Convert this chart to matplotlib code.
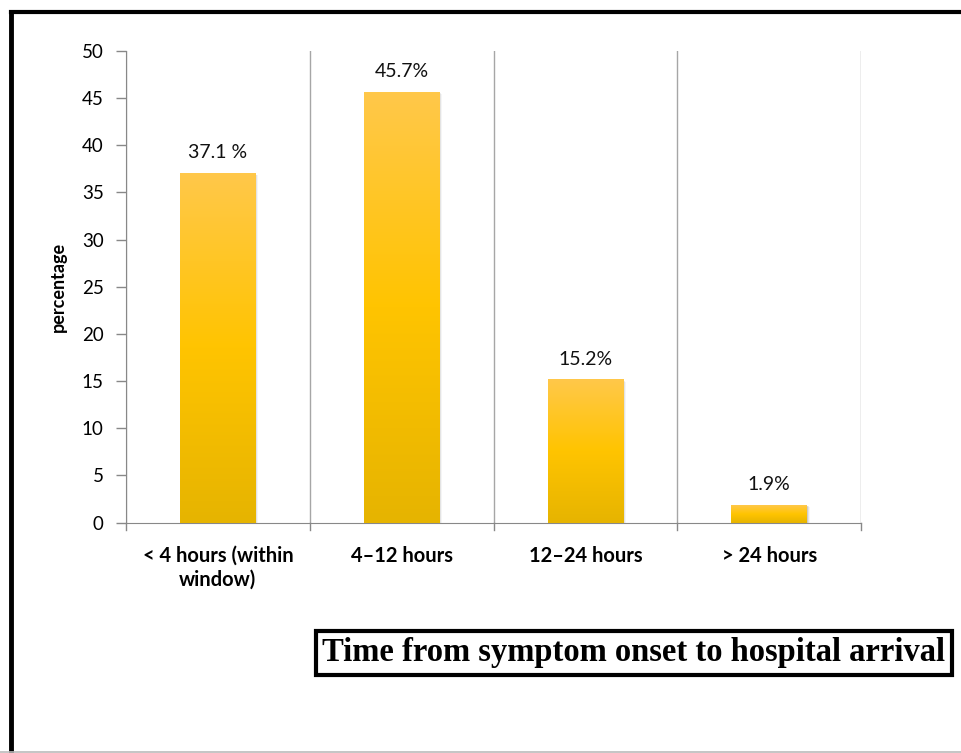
import numpy as np
import matplotlib.pyplot as plt
from matplotlib.patches import Rectangle
from matplotlib.lines import Line2D
from matplotlib.colors import LinearSegmentedColormap

categories = ['< 4 hours (within\nwindow)', '4\u201312 hours', '12\u201324 hours', '> 24 hours']
values = [37.1, 45.7, 15.2, 1.9]
value_labels = ['37.1 %', '45.7%', '15.2%', '1.9%']
yticks = list(range(0, 51, 5))
title = 'Time from symptom onset to hospital arrival'

plt.rcParams['font.family'] = ['Lato', 'DejaVu Sans']

fig = plt.figure(figsize=(9.61, 7.53), dpi=100)
ax = fig.add_axes([126 / 961, 1 - 522.5 / 753, 735 / 961, 471.5 / 753])

x = np.arange(len(categories))
bars = ax.bar(x, values, width=0.41, color='#FFC000', zorder=3)

# vertical gradient inside each bar, clipped to the bar
grad = np.linspace(0, 1, 256).reshape(-1, 1)
cmap = LinearSegmentedColormap.from_list('gold', ['#E6B400', '#FFC400', '#FFC84A'])
for b in bars:
    x0, w, h = b.get_x(), b.get_width(), b.get_height()
    # soft shadow
    for k, a in enumerate([0.10, 0.07, 0.04]):
        s = Rectangle((x0 + 0.005 * (k + 1), -0.1 * (k + 1)), w, h, color='black',
                      alpha=a, lw=0, zorder=2)
        ax.add_patch(s)
    im = ax.imshow(grad, cmap=cmap, aspect='auto', origin='lower',
                   extent=[x0, x0 + w, 0, h], zorder=4)
    im.set_clip_path(b)

for xi, v, lab in zip(x, values, value_labels):
    ax.text(xi, v + 1.2, lab, ha='center', va='bottom', fontsize=14, color='#111111')

ax.set_xlim(-0.5, len(categories) - 0.5)
ax.set_ylim(0, 50)
ax.set_yticks(yticks)
ax.set_yticklabels([str(t) for t in yticks], fontsize=13.5)
ax.set_xticks(x)
ax.set_xticklabels(categories, fontsize=14.5, fontweight='bold', linespacing=1.2)
ax.tick_params(axis='x', length=0, pad=17)
ax.tick_params(axis='y', length=7, color='#888888', width=1, direction='out', pad=9)

# category separators
for xb in np.arange(-0.5, len(categories), 1.0):
    ax.axvline(xb, color='#A6A6A6', lw=1, zorder=1)
    ax.plot([xb, xb], [0, -0.0165], transform=ax.get_xaxis_transform(),
            color='#888888', lw=1, clip_on=False)

for sp in ['top', 'right']:
    ax.spines[sp].set_visible(False)
ax.spines['left'].set_color('#888888')
ax.spines['bottom'].set_color('#888888')

ax.set_ylabel('percentage', fontsize=13, fontweight='bold', labelpad=11)

# boxed caption
fig.text(634 / 961, 1 - 653 / 753, title, ha='center', va='center',
         fontsize=23.5, fontweight='bold', family='Liberation Serif',
         bbox=dict(boxstyle='square,pad=0.2', fc='white', ec='black', lw=3))

# outer frame
fig.add_artist(Line2D([11 / 961, 11 / 961], [0, 1 - 12 / 753], color='black', lw=3.5,
                      transform=fig.transFigure))
fig.add_artist(Line2D([11 / 961, 1], [1 - 12 / 753, 1 - 12 / 753], color='black', lw=3,
                      transform=fig.transFigure))
fig.add_artist(Line2D([0, 1], [1 - 751.5 / 753, 1 - 751.5 / 753], color='#BBBBBB', lw=1.2,
                      transform=fig.transFigure))

fig.savefig('out.png', dpi=100)
